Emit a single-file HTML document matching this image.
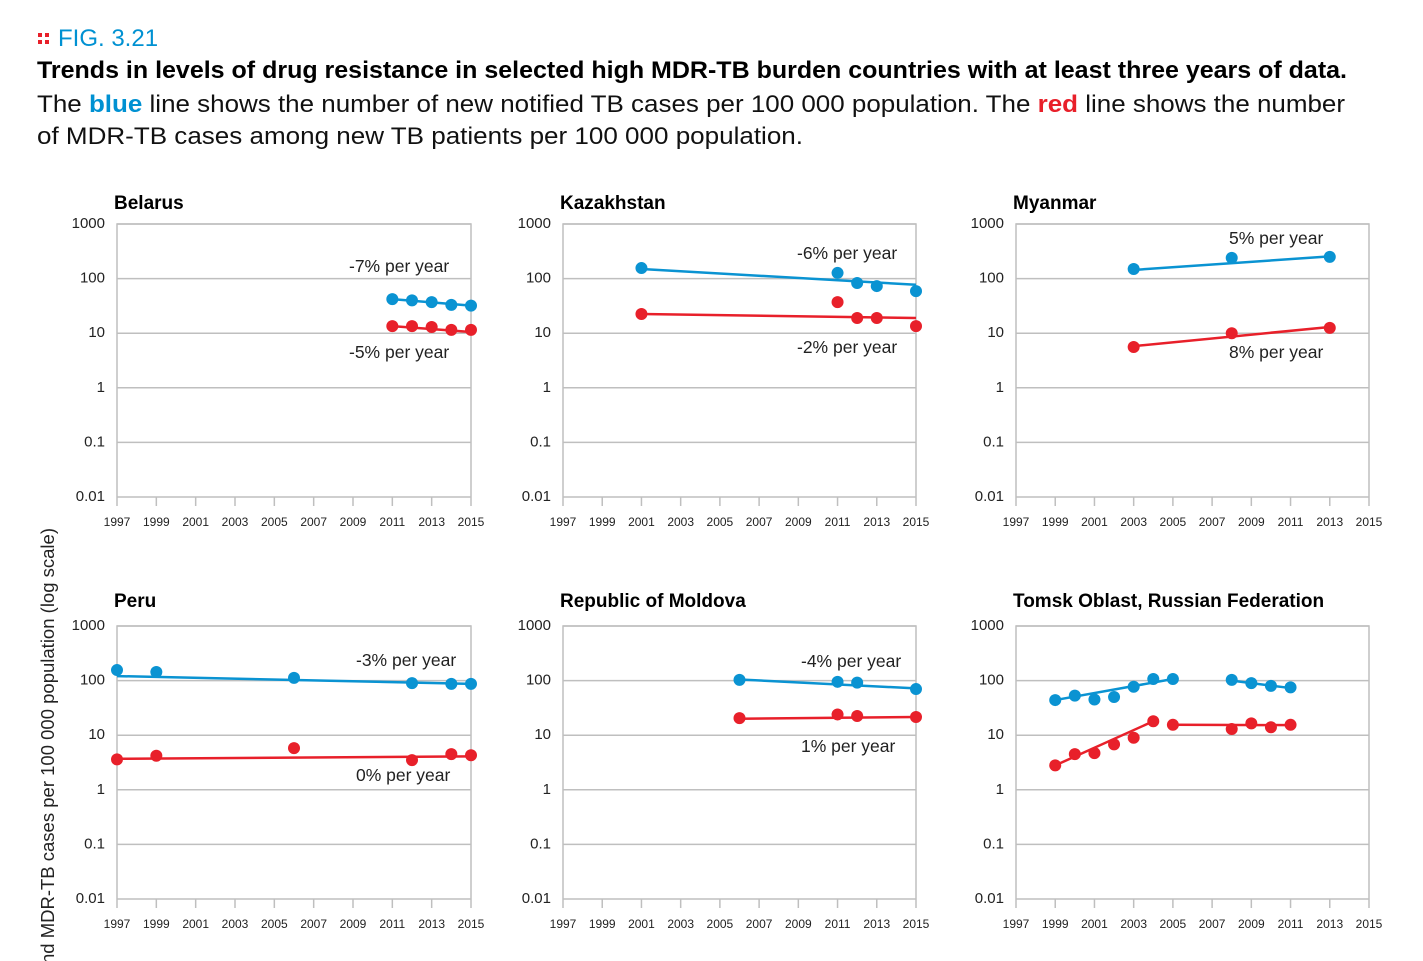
<!DOCTYPE html>
<html><head><meta charset="utf-8"><style>
html,body{margin:0;padding:0;background:#fff;}
svg{display:block;font-family:"Liberation Sans",sans-serif;}
</style></head><body>
<svg id="c" width="1423" height="961" viewBox="0 0 1423 961">
<g>
<rect x="38" y="33" width="4" height="4" fill="#e8202a"/><rect x="45" y="33" width="4" height="4" fill="#e8202a"/>
<rect x="38" y="40" width="4" height="4" fill="#e8202a"/><rect x="45" y="40" width="4" height="4" fill="#e8202a"/>
<text x="58" y="46" font-size="24" fill="#0091d2">FIG. 3.21</text>
<text x="37" y="78" font-size="24" font-weight="bold" fill="#000" textLength="1310" lengthAdjust="spacingAndGlyphs">Trends in levels of drug resistance in selected high MDR-TB burden countries with at least three years of data.</text>
<text x="37" y="112" font-size="24" fill="#111" textLength="1308" lengthAdjust="spacingAndGlyphs">The <tspan fill="#0091d2" font-weight="bold">blue</tspan> line shows the number of new notified TB cases per 100 000 population. The <tspan fill="#e8202a" font-weight="bold">red</tspan> line shows the number</text>
<text x="37" y="144" font-size="24" fill="#111" textLength="766" lengthAdjust="spacingAndGlyphs">of MDR-TB cases among new TB patients per 100 000 population.</text>
</g>
<text transform="translate(54,528) rotate(-90)" text-anchor="end" font-size="18.5" fill="#222">Total TB and MDR-TB cases per 100 000 population (log scale)</text>
</svg>
<script>
const yTicks=[1000,100,10,1,0.1,0.01];
const yTickLabels=["1000","100","10","1","0.1","0.01"];
const xTicks=[1997,1999,2001,2003,2005,2007,2009,2011,2013,2015];

const belarusYears=[2011,2012,2013,2014,2015];
const belarusBlue=[42,40,37,33,32];
const belarusRed=[13.5,13.5,13,11.5,11.5];
const belarusBlueTrend=[[2011,42],[2015,32]];
const belarusRedTrend=[[2011,13.5],[2015,10.5]];

const kazBlueYears=[2001,2011,2012,2013,2015];
const kazBlue=[156,127,83,73,59];
const kazRedYears=[2001,2011,2012,2013,2015];
const kazRed=[22.5,37,19,19,13.5];
const kazBlueTrend=[[2001,150],[2015,77]];
const kazRedTrend=[[2001,22.5],[2015,19]];

const myaYears=[2003,2008,2013];
const myaBlue=[150,240,250];
const myaRed=[5.6,10,12.5];
const myaBlueTrend=[[2003,144],[2013,255]];
const myaRedTrend=[[2003,5.8],[2013,13]];

const peruYears=[1997,1999,2006,2012,2014,2015];
const peruBlue=[156,144,112,90,87,87];
const peruRed=[3.6,4.2,5.8,3.5,4.5,4.3];
const peruBlueTrend=[[1997,121],[2015,87]];
const peruRedTrend=[[1997,3.7],[2015,4.1]];

const molYears=[2006,2011,2012,2015];
const molBlue=[103,95,92,70];
const molRed=[20.5,24,22.5,21.5];
const molBlueTrend=[[2006,105],[2015,72]];
const molRedTrend=[[2006,20],[2015,21.5]];

const tomYears=[1999,2000,2001,2002,2003,2004,2005,2008,2009,2010,2011];
const tomBlue=[44,53,45,50,77,107,107,103,90,80,75];
const tomRed=[2.8,4.5,4.7,6.8,9,18,15.5,13,16.5,14,15.5];
const tomBlueTrend1=[[1999,44],[2005,107]];
const tomBlueTrend2=[[2008,100],[2011,73]];
const tomRedTrend1=[[1999,2.8],[2004,18]];
const tomRedTrend2=[[2005,15.5],[2011,15.3]];

const BLUE="#0a93d2",RED="#e8202a",GRID="#bfbfbf";
const svg=document.getElementById('c');
const NS="http://www.w3.org/2000/svg";
function mk(tag,attrs,parent){const e=document.createElementNS(NS,tag);for(const k in attrs)e.setAttribute(k,attrs[k]);parent.appendChild(e);return e;}

const panels=[
 {name:"belarus",title:"Belarus",x0:117,x1:471,yt:224,yb:497,
  series:[[belarusYears,belarusBlue,BLUE,"blue"],[belarusYears,belarusRed,RED,"red"]],
  trends:[[belarusBlueTrend,BLUE],[belarusRedTrend,RED]],
  notes:[["-7% per year",349,272],["-5% per year",349,358]]},
 {name:"kazakhstan",title:"Kazakhstan",x0:563,x1:916,yt:224,yb:497,
  series:[[kazBlueYears,kazBlue,BLUE,"blue"],[kazRedYears,kazRed,RED,"red"]],
  trends:[[kazBlueTrend,BLUE],[kazRedTrend,RED]],
  notes:[["-6% per year",797,259],["-2% per year",797,353]]},
 {name:"myanmar",title:"Myanmar",x0:1016,x1:1369,yt:224,yb:497,
  series:[[myaYears,myaBlue,BLUE,"blue"],[myaYears,myaRed,RED,"red"]],
  trends:[[myaBlueTrend,BLUE],[myaRedTrend,RED]],
  notes:[["5% per year",1229,244],["8% per year",1229,358]]},
 {name:"peru",title:"Peru",x0:117,x1:471,yt:626,yb:899,
  series:[[peruYears,peruBlue,BLUE,"blue"],[peruYears,peruRed,RED,"red"]],
  trends:[[peruBlueTrend,BLUE],[peruRedTrend,RED]],
  notes:[["-3% per year",356,666],["0% per year",356,781]]},
 {name:"moldova",title:"Republic of Moldova",x0:563,x1:916,yt:626,yb:899,
  series:[[molYears,molBlue,BLUE,"blue"],[molYears,molRed,RED,"red"]],
  trends:[[molBlueTrend,BLUE],[molRedTrend,RED]],
  notes:[["-4% per year",801,667],["1% per year",801,752]]},
 {name:"tomsk",title:"Tomsk Oblast, Russian Federation",x0:1016,x1:1369,yt:626,yb:899,
  series:[[tomYears,tomBlue,BLUE,"blue"],[tomYears,tomRed,RED,"red"]],
  trends:[[tomBlueTrend1,BLUE],[tomBlueTrend2,BLUE],[tomRedTrend1,RED],[tomRedTrend2,RED]],
  notes:[]}
];

panels.forEach(p=>{
 const g=mk('g',{},svg);
 
 
 const X=yr=>p.x0+(yr-1997)/(2015-1997)*(p.x1-p.x0);
 const Y=v=>p.yt+(3-Math.log10(v))/5*(p.yb-p.yt);
 const t=mk('text',{x:X(1997)-3,y:p.yt-(p.yt>500?19:15),"font-size":19,"font-weight":"bold",fill:"#000"},g);
 t.textContent=p.title;
 
 
 yTicks.forEach((v,i)=>{
  const l=mk('line',{x1:p.x0,x2:p.x1,y1:Y(v),y2:Y(v),stroke:GRID,"stroke-width":1.5},g);
  
  
  const tl=mk('text',{x:p.x0-12,y:Y(v)+4,"text-anchor":"end","font-size":15,fill:"#222"},g);
  tl.textContent=yTickLabels[i];
  
  
 });
 const fr=mk('path',{d:`M${p.x0},${p.yb}V${p.yt}H${p.x1}V${p.yb}`,fill:"none",stroke:GRID,"stroke-width":1.5},g);
 
 
 xTicks.forEach(yr=>{
  const tk=mk('line',{x1:X(yr),x2:X(yr),y1:p.yb,y2:p.yb+9,stroke:GRID,"stroke-width":1.5},g);
  
  
  const tl=mk('text',{x:X(yr),y:p.yb+29,"text-anchor":"middle","font-size":12,fill:"#222"},g);
  tl.textContent=yr;
  
  
 });
 p.trends.forEach(([tr,c])=>{
  const l=mk('line',{x1:X(tr[0][0]),y1:Y(tr[0][1]),x2:X(tr[1][0]),y2:Y(tr[1][1]),stroke:c,"stroke-width":2.5},g);
  
  
 });
 p.series.forEach(([yrs,vals,c,nm])=>{
  yrs.forEach((yr,i)=>{
   const d=mk('circle',{cx:X(yr),cy:Y(vals[i]),r:6,fill:c},g);
   
   
  });
 });
 p.notes.forEach(([s,x,y])=>{
  const n=mk('text',{x:x,y:y,"font-size":17.5,fill:"#222"},g);
  n.textContent=s;
  
  
 });
});
</script>
</body></html>
